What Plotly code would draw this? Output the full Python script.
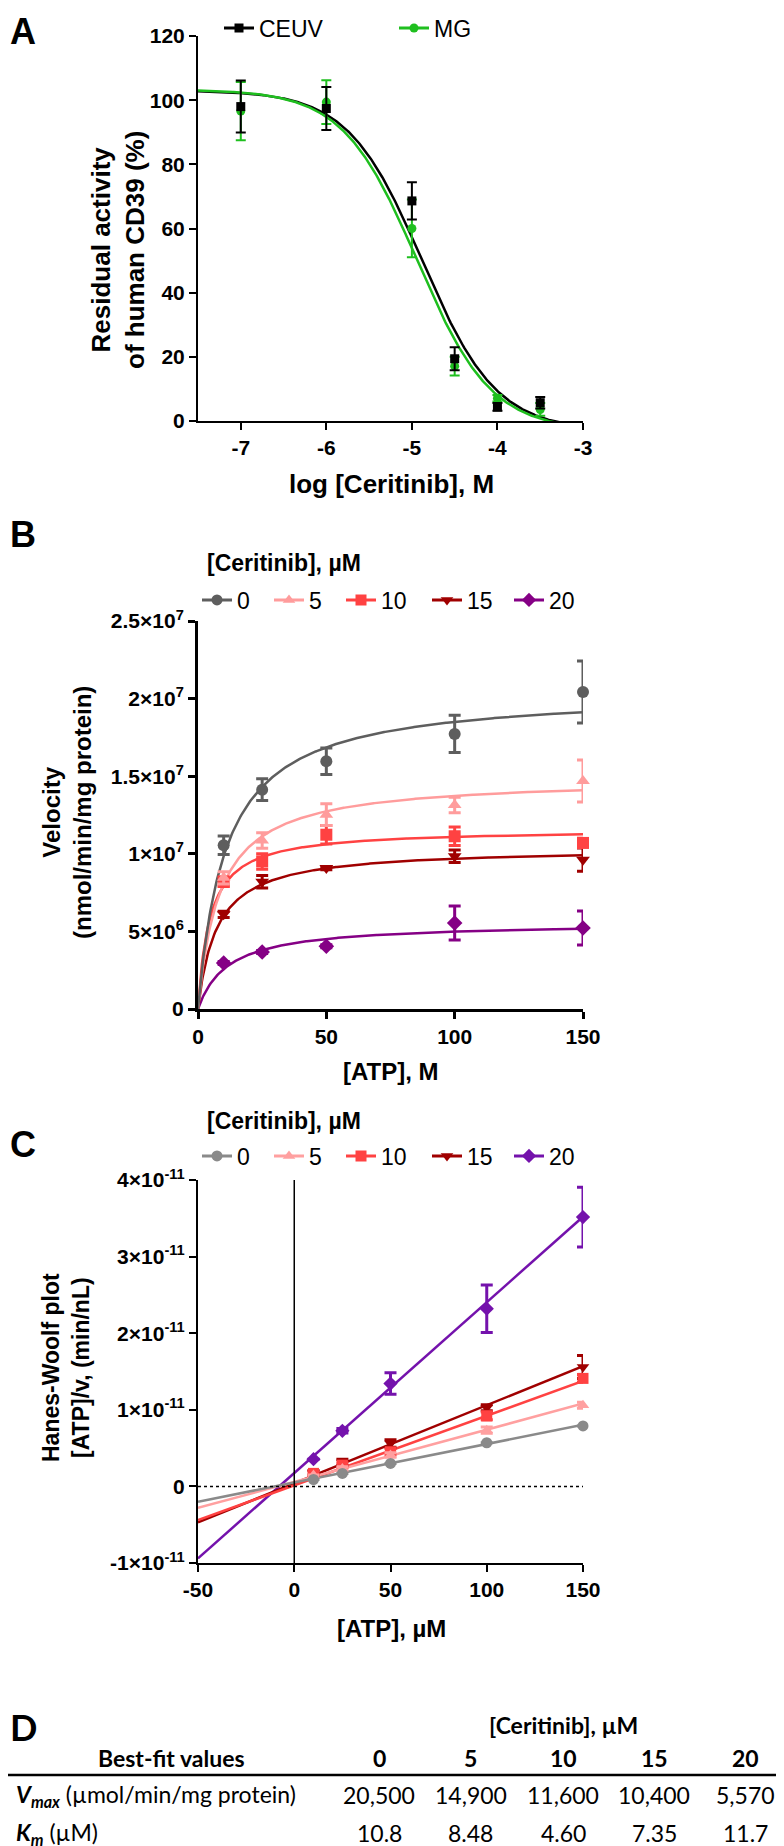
import numpy as np
import plotly.graph_objects as go

W, H = 784, 1846
def PX(p): return p / W
def PY(p): return 1 - p / H

# ---------------- Panel A data ----------------
log_conc = [-7, -6, -5, -4.5, -4, -3.5]
ceuv_vals = [98.0, 97.4, 68.6, 19.4, 4.4, 5.7]
ceuv_err = [8.1, 6.7, 5.8, 3.6, 1.2, 1.8]
mg_vals = [96.6, 99.4, 60.0, 17.1, 7.1, 3.6]
mg_err = [9.1, 6.8, 9.0, 2.9, 1.0, 2.0]
# four-parameter logistic fits [CEUV, MG]
fit_top = [103.0, 103.3]
fit_bottom = [-3.0, -3.0]
fit_logic50 = [-4.88, -4.94]
fit_hill = [1.0, 1.0]

# ---------------- Panel D table (also used for panel B fits) ----------------
ceritinib_uM = [0, 5, 10, 15, 20]
vmax_table = [20500, 14900, 11600, 10400, 5570]   # µmol/min/mg protein
km_table = [10.8, 8.48, 4.60, 7.35, 11.7]           # µM

# ---------------- Panel B data ----------------
atp_uM = [10, 25, 50, 100, 150]
vel_0 = [1.055e7, 1.413e7, 1.596e7, 1.772e7, 2.043e7]
vel_5 = [0.845e7, 1.085e7, 1.252e7, 1.315e7, 1.469e7]
vel_10 = [0.82e7, 0.951e7, 1.123e7, 1.113e7, 1.07e7]
vel_15 = [0.61e7, 0.82e7, 0.908e7, 0.984e7, 0.962e7]
vel_20 = [2.96e6, 3.67e6, 4.04e6, 5.54e6, 5.22e6]
err_0 = [0.06e7, 0.07e7, 0.085e7, 0.12e7, 0.2e7]
err_5 = [0.04e7, 0.05e7, 0.07e7, 0.05e7, 0.135e7]
err_10 = [0.03e7, 0.05e7, 0.06e7, 0.06e7, 0.03e7]
err_15 = [0.02e7, 0.04e7, 0.01e7, 0.04e7, 0.075e7]
err_20 = [0.1e6, 0.1e6, 0.1e6, 1.1e6, 1.1e6]

# ---------------- Panel C data (Hanes-Woolf, x1e-11) ----------------
hw_0 = [0.09, 0.17, 0.30, 0.57, 0.79]
hw_5 = [0.15, 0.235, 0.41, 0.734, 1.06]
hw_10 = [0.17, 0.278, 0.452, 0.92, 1.41]
hw_15 = [0.178, 0.313, 0.56, 1.026, 1.56]
hw_20 = [0.356, 0.726, 1.343, 2.32, 3.516]
hw_err_0 = [0, 0, 0, 0, 0]
hw_err_5 = [0, 0.02, 0.03, 0.04, 0.04]
hw_err_10 = [0.02, 0.03, 0.04, 0.05, 0.05]
hw_err_15 = [0.03, 0.04, 0.05, 0.04, 0.15]
hw_err_20 = [0, 0.03, 0.14, 0.31, 0.39]
hw_slope = [0.00502, 0.00681, 0.00908, 0.0102, 0.0223]
hw_intercept = [0.051, 0.06, 0.014, 0.04, 0.175]

colors_B = ["#5e5e5e", "#ff9c9c", "#ff4242", "#a00000", "#850085"]
colors_C = ["#8a8a8a", "#ffa0a0", "#ff4242", "#a00000", "#7412ac"]
symbols = ["circle", "triangle-up", "square", "triangle-down", "diamond"]

FONT = "Liberation Sans, Arial, sans-serif"
TICKF = dict(family=FONT, size=21, color="black", weight="bold")

# legend entry anchor positions (pixels): marker centre x, row y
legA_x, legA_y = [232, 407], 20
legBC_x = [210, 282, 354, 440, 522]
legB_y, legC_y = 592, 1148

fig = go.Figure()
legends = {}
leg_counter = [0]
def new_legend(mx, my):
    leg_counter[0] += 1
    lid = "legend" if leg_counter[0] == 1 else f"legend{leg_counter[0]}"
    legends[lid] = dict(orientation="h", xanchor="left", yanchor="middle",
                        x=PX(mx - 21), y=PY(my), bgcolor="rgba(0,0,0,0)",
                        font=dict(family=FONT, size=23, color="black"), itemwidth=30)
    return lid

# ---- Panel A ----
xs = np.linspace(-7.5, -3.0, 400)
a_series = [("CEUV", ceuv_vals, ceuv_err, "black", "square"),
            ("MG", mg_vals, mg_err, "#1fbf1f", "circle")]
for i, (name, vals, err, col, sym) in enumerate(a_series):
    curve = fit_bottom[i] + (fit_top[i] - fit_bottom[i]) / (1 + 10 ** ((xs - fit_logic50[i]) * fit_hill[i]))
    fig.add_trace(go.Scatter(x=xs, y=curve, mode="lines", line=dict(color=col, width=2.5),
                             xaxis="x", yaxis="y", showlegend=False, hoverinfo="skip"))
for i, (name, vals, err, col, sym) in reversed(list(enumerate(a_series))):
    fig.add_trace(go.Scatter(x=log_conc, y=vals, mode="markers",
                             marker=dict(color=col, symbol=sym, size=9),
                             error_y=dict(type="data", array=err, color=col, thickness=2, width=5),
                             xaxis="x", yaxis="y", showlegend=False, cliponaxis=False))
for i, (name, vals, err, col, sym) in enumerate(a_series):
    fig.add_trace(go.Scatter(x=[None], y=[None], mode="lines+markers", name=name,
                             line=dict(color=col, width=3), marker=dict(color=col, symbol=sym, size=9),
                             xaxis="x", yaxis="y", legend=new_legend(legA_x[i], legA_y)))

# ---- Panel B ----
vel = [vel_0, vel_5, vel_10, vel_15, vel_20]
verr = [err_0, err_5, err_10, err_15, err_20]
xb = np.linspace(0, 150, 400)
for i in reversed(range(5)):
    vmax_nmol = vmax_table[i] * 1000.0
    fig.add_trace(go.Scatter(x=xb, y=vmax_nmol * xb / (km_table[i] + xb), mode="lines",
                             line=dict(color=colors_B[i], width=2.5),
                             xaxis="x2", yaxis="y2", showlegend=False, hoverinfo="skip"))
for i in reversed(range(5)):
    fig.add_trace(go.Scatter(x=atp_uM, y=vel[i], mode="markers",
                             marker=dict(color=colors_B[i], symbol=symbols[i], size=12),
                             error_y=dict(type="data", array=verr[i], color=colors_B[i], thickness=3, width=6),
                             xaxis="x2", yaxis="y2", showlegend=False, cliponaxis=False))
for i in range(5):
    fig.add_trace(go.Scatter(x=[None], y=[None], mode="lines+markers", name=str(ceritinib_uM[i]),
                             line=dict(color=colors_B[i], width=3),
                             marker=dict(color=colors_B[i], symbol=symbols[i], size=11),
                             xaxis="x2", yaxis="y2", legend=new_legend(legBC_x[i], legB_y)))

# ---- Panel C ----
hw = [hw_0, hw_5, hw_10, hw_15, hw_20]
hwe = [hw_err_0, hw_err_5, hw_err_10, hw_err_15, hw_err_20]
xl = np.array([-50.0, 150.0])
for i in reversed(range(5)):
    fig.add_trace(go.Scatter(x=xl, y=(hw_intercept[i] + hw_slope[i] * xl) * 1e-11, mode="lines",
                             line=dict(color=colors_C[i], width=2.5),
                             xaxis="x3", yaxis="y3", showlegend=False, hoverinfo="skip"))
for i in reversed(range(5)):
    fig.add_trace(go.Scatter(x=atp_uM, y=[v * 1e-11 for v in hw[i]], mode="markers",
                             marker=dict(color=colors_C[i], symbol=symbols[i], size=11),
                             error_y=dict(type="data", array=[e * 1e-11 for e in hwe[i]],
                                          color=colors_C[i], thickness=3, width=6),
                             xaxis="x3", yaxis="y3", showlegend=False, cliponaxis=False))
for i in range(5):
    fig.add_trace(go.Scatter(x=[None], y=[None], mode="lines+markers", name=str(ceritinib_uM[i]),
                             line=dict(color=colors_C[i], width=3),
                             marker=dict(color=colors_C[i], symbol=symbols[i], size=11),
                             xaxis="x3", yaxis="y3", legend=new_legend(legBC_x[i], legC_y)))

def axis(domain, rng, tickvals, ticktext, anchor, lw):
    return dict(domain=domain, range=rng, tickvals=tickvals, ticktext=ticktext, anchor=anchor,
                showline=True, linecolor="black", linewidth=lw, ticks="outside", ticklen=7,
                tickwidth=lw, tickcolor="black", showgrid=False, zeroline=False,
                tickfont=TICKF, fixedrange=True)

xdom = [PX(190), PX(575)]
fig.update_layout(
    xaxis=axis(xdom, [-7.5, -3], [-7, -6, -5, -4, -3], ["-7", "-6", "-5", "-4", "-3"], "y", 2),
    yaxis=axis([PY(413), PY(28)], [0, 120], [0, 20, 40, 60, 80, 100, 120],
               ["0", "20", "40", "60", "80", "100", "120"], "x", 2),
    xaxis2=axis(xdom, [0, 150], [0, 50, 100, 150], ["0", "50", "100", "150"], "y2", 3),
    yaxis2=axis([PY(1001), PY(613)], [0, 2.5e7], [0, 5e6, 1e7, 1.5e7, 2e7, 2.5e7],
                ["0", "5×10<sup>6</sup>", "1×10<sup>7</sup>", "1.5×10<sup>7</sup>",
                 "2×10<sup>7</sup>", "2.5×10<sup>7</sup>"], "x2", 3),
    xaxis3=axis(xdom, [-50, 150], [-50, 0, 50, 100, 150], ["-50", "0", "50", "100", "150"], "y3", 2),
    yaxis3=axis([PY(1555), PY(1172)], [-1e-11, 4e-11], [-1e-11, 0, 1e-11, 2e-11, 3e-11, 4e-11],
                ["-1×10<sup>-11</sup>", "0", "1×10<sup>-11</sup>", "2×10<sup>-11</sup>",
                 "3×10<sup>-11</sup>", "4×10<sup>-11</sup>"], "x3", 2),
)
fig.update_layout(**legends)

shapes = []
# Panel C reference lines
shapes.append(dict(type="line", xref="x3", yref="y3", x0=0, x1=0, y0=-1e-11, y1=4e-11,
                   line=dict(color="black", width=1.5)))
shapes.append(dict(type="line", xref="x3", yref="y3", x0=-50, x1=150, y0=0, y1=0,
                   line=dict(color="black", width=1.5, dash="dot")))
# Panel D table rules
shapes.append(dict(type="line", xref="paper", yref="paper", x0=0, x1=1, y0=PY(1767), y1=PY(1767),
                   line=dict(color="black", width=2.5)))
shapes.append(dict(type="line", xref="paper", yref="paper", x0=0, x1=1, y0=PY(1843), y1=PY(1843),
                   line=dict(color="black", width=2.5)))

ann = []
def txt(x, y, s, size, bold=True, xanchor="center", angle=0, family=FONT, yanchor="middle"):
    ann.append(dict(x=PX(x), y=PY(y), xref="paper", yref="paper", text=s, showarrow=False,
                    xanchor=xanchor, yanchor=yanchor, textangle=angle,
                    font=dict(family=family, size=size, color="black",
                              weight="bold" if bold else "normal")))

# panel letters
txt(0, 23, "A", 36, xanchor="left")
txt(0, 526, "B", 36, xanchor="left")
txt(0, 1136, "C", 36, xanchor="left")
TAB = "Lato, Carlito, Liberation Sans, sans-serif"
txt(0, 1719, "D", 36, xanchor="left", family=TAB)

# axis titles
txt(110, 242, "Residual activity<br>of human CD39 (%)", 26, angle=-90)
txt(383, 476, "log [Ceritinib], M", 26)
txt(59, 805, "Velocity<br>(nmol/min/mg protein)", 24, angle=-90)
txt(383, 1063, "[ATP], M", 24)
txt(58, 1360, "Hanes-Woolf plot<br>[ATP]/v, (min/nL)", 23, angle=-90)
txt(383, 1620, "[ATP], µM", 24)
# legend titles
txt(197, 555, "[Ceritinib], µM", 23, xanchor="left")
txt(197, 1113, "[Ceritinib], µM", 23, xanchor="left")

# Table D
col_x = [371, 463, 555, 646, 737]
TS = 23
txt(555, 1717, "[Ceritinib], µM", TS, family=TAB)
txt(163, 1750, "Best-fit values", TS, family=TAB)
for cx, c in zip(col_x, ceritinib_uM):
    txt(cx, 1750, str(c), TS, family=TAB)
txt(6, 1787, "<b><i>V<sub>max</sub></i></b> (µmol/min/mg protein)", TS, bold=False, xanchor="left", family=TAB)
txt(6, 1825, "<b><i>K<sub>m</sub></i></b> (µM)", TS, bold=False, xanchor="left", family=TAB)
for cx, v in zip(col_x, vmax_table):
    txt(cx, 1787, f"{v:,}", TS, bold=False, family=TAB)
for cx, k in zip(col_x, km_table):
    txt(cx, 1825, f"{k:#.3g}", TS, bold=False, family=TAB)

fig.update_layout(width=W, height=H, margin=dict(l=0, r=0, t=0, b=0, autoexpand=False),
                  paper_bgcolor="white", plot_bgcolor="white",
                  shapes=shapes, annotations=ann, showlegend=True)

fig.write_html("out.html", config={"displayModeBar": False})
